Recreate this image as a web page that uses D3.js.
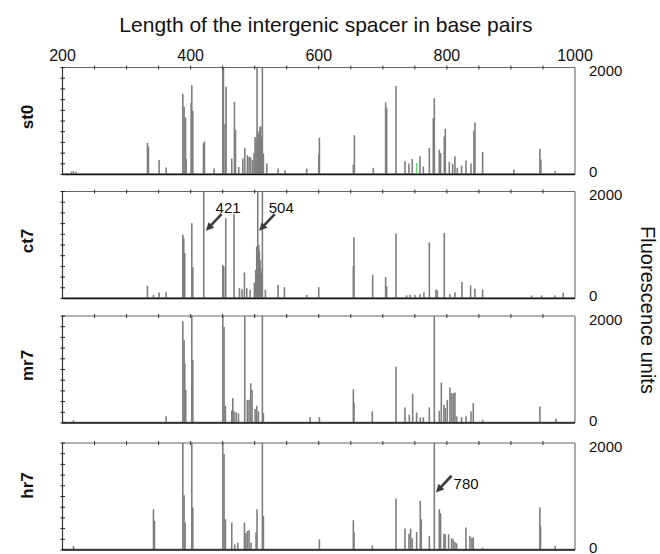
<!DOCTYPE html>
<html>
<head>
<meta charset="utf-8">
<script src="https://cdn.jsdelivr.net/npm/d3@7"></script>
<style>
body { margin: 0; background: #fff; }
svg { display: block; font-family: "Liberation Sans", Arial, sans-serif; }
</style>
</head>
<body>
<div id="chart"></div>
<script>

// samples, top to bottom
var samples = ["st0", "ct7", "mr7", "hr7"];
var bpTicks = [200, 400, 600, 800, 1000];
var fluoTicks = [0, 2000];

// peaks: [length in bp, fluorescence]
var st0 = [[214,55],[217,60],[221,50],
  [332.6,590],[334.2,520],[350.8,270],[361.8,130],
  [387.8,1510],[389.8,1265],[392,1065],[393,290],
  [400.8,1340],[401.8,1670],[403.4,1190],
  [420,580],[421.6,620],[436.6,112],
  [450.2,2100],[451.2,2100],[453.8,950],[455.4,1640],
  [464.2,300],[468.4,1360],[470,830],[475.1,140],[481.4,300],[484.5,500],[488.6,360],[491.2,330],[493.8,318],[497,270],
  [499,400],[500.6,700],[502.2,650],[503.7,2100],[504.5,800],[505.8,760],[506.6,600],[507.4,820],[508.4,890],[509.4,900],[510.5,700],[511,500],[512,2100],[513.6,390],[518.8,205],
  [536.5,112],[547.4,80],[581.2,112],[600,380],[601,690],[654,187],[655.6,735],
  [685.2,124],[704.4,1350],[706,1250],[720.6,1653],[734.6,248],[740.8,204],[746,291],[758,340],[763.2,150],
  [772.6,495],[778.8,1052],[780.4,1424],[788.2,464],[790.2,400],[796,712],[797.5,854],[803.8,235],[809,200],
  [812.6,340],[816.2,124],[823,167],[829.8,260],[837.6,204],[842.2,817],[843.8,972],[855.8,421],
  [904.6,93],[945.2,477],[946.8,280],[969.1,62]];
var st0Green = [[752.8,217]];

var ct7 = [[332.6,237],[342,68],[350.8,112],[361.8,118],
  [387.8,1190],[389.3,1128],[390.9,847],[401.8,1408],[403.4,586],
  [420.5,2100],[450.2,630],[451.7,600],[454.8,1500],[467.8,1576],[476.2,193],[480.3,175],[484,486],[487.6,193],[492.8,162],
  [499.6,300],[501.6,536],[503.2,970],[504.8,2100],[506.3,1000],[507.3,880],[508.4,720],[509.5,560],[510.5,470],[512,2100],[516.7,162],
  [536.5,255],[546.4,212],[581.2,68],[600,212],[654,610],[655,1146],
  [684.2,445],[704.4,401],[706,226],[720.6,1216],[737.2,60],[742.4,70],[750.2,65],[758,80],[764.2,119],
  [772.6,1047],[783,170],[785,150],[796,1229],[804.8,80],[812.6,119],[823.5,307],[837,245],[843.8,182],[855.8,169],
  [932.2,56],[947.8,56],[968.6,56],[981.6,107]];

var mr7 = [[217.2,50],[361.8,124],
  [387.8,1900],[389.8,1548],[390.9,1115],[392.4,619],[401.8,2100],[403.4,1176],
  [450.2,2100],[452.2,1796],[454.3,322],[464.2,235],[465.8,464],[467.8,217],[471,200],[474.6,180],
  [484.5,2100],[488.6,433],[491.2,433],[493.8,743],[495.9,619],[500.6,260],[503.2,322],[505.8,217],[512,2100],[513.6,186],
  [586.4,111],[601,111],[654,632],[655,384],
  [683.6,217],[720.6,1053],[734.6,291],[741.4,155],[746.6,545],[752.8,198],[758.5,105],[763.2,105],[772.6,291],
  [780.4,2100],[788.2,229],[791.3,755],[795.4,341],[797.5,279],[800.6,433],[804.8,663],[807.4,557],[810,557],[812.6,570],
  [815.2,124],[823,111],[829.8,124],[837.6,217],[841.2,371],[855.8,62],[945.2,310],[970.2,80]];

var hr7 = [[217.2,75],[342,762],[343.6,544],
  [387.8,2100],[389.8,1025],[391.4,512],[401.8,2100],[403.4,794],
  [450.2,2100],[452.2,1794],[454.3,575],[464.2,512],[468.9,106],[473.6,137],[484,512],[486,312],[488.6,356],[491.2,369],[494.4,137],
  [502.2,325],[503.7,762],[512,2100],[513.6,637],
  [601,200],[654,556],[655,325],
  [683.6,87],[720.6,962],[734.6,400],[740.8,306],[743.4,400],[746,219],[752.8,337],[758.5,919],[760,575],[772.6,262],
  [780.4,2100],[788.2,762],[790.2,687],[795.4,306],[797.5,294],[802.7,294],[807.4,219],[810,200],[812.6,150],[815.2,125],
  [829.8,419],[836,262],[839.1,231],[841.2,231],[855.8,44],[945.2,794],[946.2,450],[969.1,75]];

var baselineNoise = [28, 28, 28, 28];

// labelled peaks
var annotSample = ["ct7", "ct7", "hr7"];
var annotBp = [421, 504, 780];
var annotLevel = [1260, 1260, 1070];

var traces = { st0: st0, ct7: ct7, mr7: mr7, hr7: hr7 };

var width = 660, height = 554;
var panelTops = [67.5, 191.5, 316, 443];
var panelH = 107;
var labelShift = [-4, -4, -4, -11];

var svg = d3.select("#chart").append("svg")
  .attr("width", width)
  .attr("height", height);

svg.append("defs").append("marker")
  .attr("id", "arrow")
  .attr("viewBox", "0 0 10 10")
  .attr("refX", 4.4)
  .attr("refY", 5)
  .attr("markerWidth", 9)
  .attr("markerHeight", 8)
  .attr("markerUnits", "userSpaceOnUse")
  .attr("orient", "auto")
  .append("path")
    .attr("d", "M0,0L10,5L0,10z")
    .attr("fill", "#3c3c3c");

var x = d3.scaleLinear().domain([200, 1000]).range([62.5, 575]);

svg.append("text")
  .attr("x", 326)
  .attr("y", 31.5)
  .attr("text-anchor", "middle")
  .style("font-size", "21px")
  .attr("fill", "#111")
  .text("Length of the intergenic spacer in base pairs");

svg.selectAll(".bpLabel")
  .data(bpTicks)
  .enter().append("text")
    .attr("class", "bpLabel")
    .attr("x", function(d) { return x(d); })
    .attr("y", 61)
    .attr("text-anchor", "middle")
    .style("font-size", "16px")
    .attr("fill", "#111")
    .text(function(d) { return d; });

svg.append("text")
  .attr("transform", "translate(641,310) rotate(90)")
  .attr("text-anchor", "middle")
  .style("font-size", "20px")
  .attr("fill", "#111")
  .text("Fluorescence units");

var yScales = {};

samples.forEach(function(name, i) {
  var top = panelTops[i], bottom = top + panelH;
  var y = d3.scaleLinear().domain([0, 2000]).range([bottom, top]).clamp(true);
  yScales[name] = y;
  var g = svg.append("g").attr("class", "panel");

  // baseline noise band
  g.append("rect")
    .attr("x", x(200))
    .attr("y", y(baselineNoise[i]))
    .attr("width", x(1000) - x(200))
    .attr("height", y(0) - y(baselineNoise[i]))
    .attr("fill", "#aaa");

  g.selectAll(".peak")
    .data(traces[name])
    .enter().append("line")
      .attr("class", "peak")
      .attr("x1", function(d) { return x(d[0]); })
      .attr("x2", function(d) { return x(d[0]); })
      .attr("y1", y(0))
      .attr("y2", function(d) { return y(d[1]); })
      .attr("stroke", "#7e7e7e")
      .attr("stroke-width", 1.6);

  if (name == "st0") {
    g.selectAll(".green")
      .data(st0Green)
      .enter().append("line")
        .attr("x1", function(d) { return x(d[0]); })
        .attr("x2", function(d) { return x(d[0]); })
        .attr("y1", y(0))
        .attr("y2", function(d) { return y(d[1]); })
        .attr("stroke", "#66dd66")
        .attr("stroke-width", 1.6);
  }

  // frame
  g.append("line").attr("x1", x(200)).attr("x2", x(1000)).attr("y1", top).attr("y2", top)
    .attr("stroke", "#666").attr("stroke-width", 1.2);
  g.append("line").attr("x1", x(1000)).attr("x2", x(1000)).attr("y1", top).attr("y2", bottom)
    .attr("stroke", "#777").attr("stroke-width", 1.2);
  g.append("line").attr("x1", x(200)).attr("x2", x(200)).attr("y1", top).attr("y2", bottom)
    .attr("stroke", "#333").attr("stroke-width", 1.2);
  g.append("line").attr("x1", x(200)).attr("x2", x(1000)).attr("y1", bottom).attr("y2", bottom)
    .attr("stroke", "#111").attr("stroke-width", 1.6);

  // ticks every 50 bp on top, every 200 units on the left
  g.selectAll(".xt")
    .data(d3.range(250, 1000, 50))
    .enter().append("line")
      .attr("x1", function(d) { return x(d); })
      .attr("x2", function(d) { return x(d); })
      .attr("y1", top - 2)
      .attr("y2", top + 2)
      .attr("stroke", "#333");

  g.selectAll(".yt")
    .data(d3.range(0, 2001, 200))
    .enter().append("line")
      .attr("x1", x(200) - 2)
      .attr("x2", x(200) + 2.5)
      .attr("y1", function(d) { return y(d); })
      .attr("y2", function(d) { return y(d); })
      .attr("stroke", "#222");

  g.selectAll(".yl")
    .data(fluoTicks)
    .enter().append("text")
      .attr("x", 589)
      .attr("y", function(d) { return d == 0 ? y(d) + 2.5 : y(d) + 8.5; })
      .style("font-size", "15px")
      .attr("fill", "#111")
      .text(function(d) { return d; });

  g.append("text")
    .attr("transform", "translate(33," + ((top + bottom) / 2 + labelShift[i]) + ") rotate(-90)")
    .attr("text-anchor", "middle")
    .style("font-size", "17px")
    .style("font-weight", "bold")
    .attr("fill", "#111")
    .text(name);
});

// arrows and labels
annotBp.forEach(function(bp, i) {
  var y = yScales[annotSample[i]];
  var hx = x(bp) + 1.5, hy = y(annotLevel[i]);
  var tx = hx + 16, ty = hy - 17;
  var len = Math.sqrt(16 * 16 + 17 * 17);
  svg.append("line")
    .attr("x1", tx)
    .attr("y1", ty)
    .attr("x2", hx + 16 * 5 / len)
    .attr("y2", hy - 17 * 5 / len)
    .attr("stroke", "#3c3c3c")
    .attr("stroke-width", 2.6)
    .attr("marker-end", "url(#arrow)");
  var right = annotSample[i] == "hr7";
  svg.append("text")
    .attr("x", right ? tx + 2 : tx - 6)
    .attr("y", right ? ty + 13 : ty - 1)
    .style("font-size", "15px")
    .attr("fill", "#111")
    .text(annotBp[i]);
});

</script>
</body>
</html>
